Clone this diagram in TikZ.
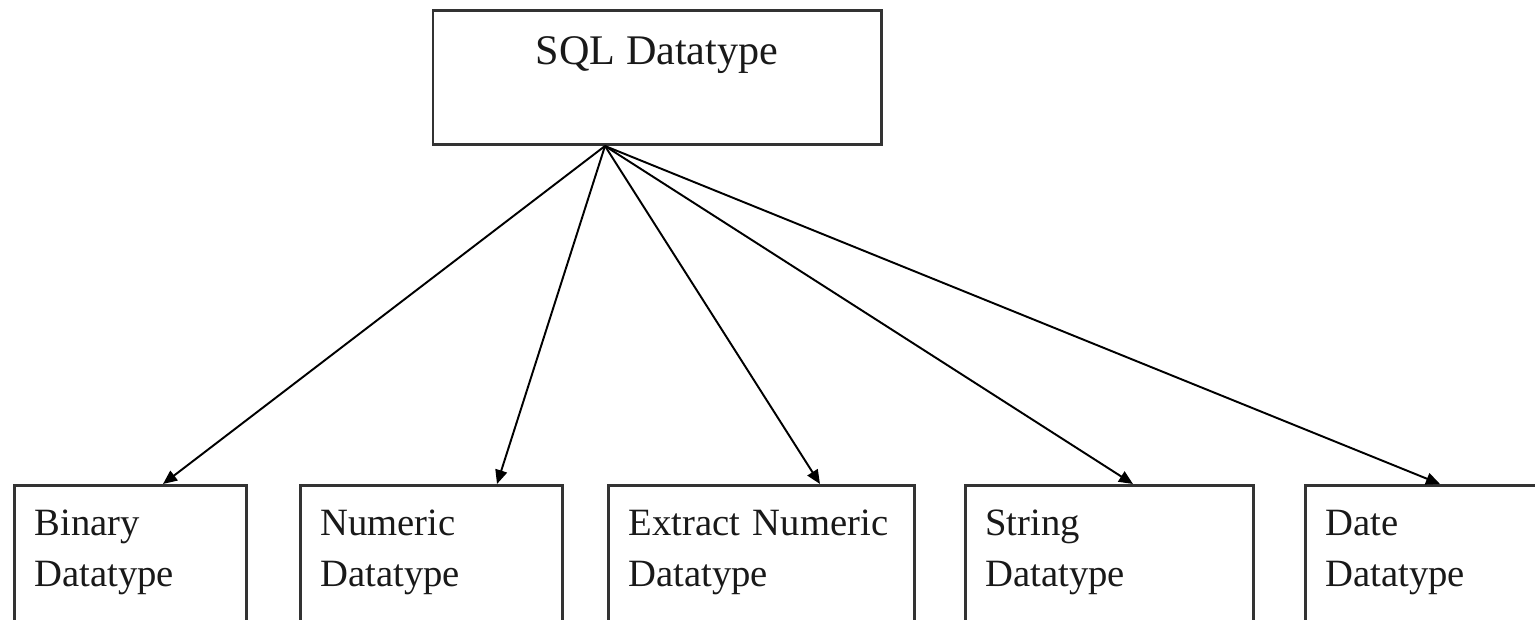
\documentclass[tikz,border=0pt]{standalone}
\usepackage{fontspec}
\setmainfont{Liberation Serif}
\usetikzlibrary{arrows.meta}
\def \Px {0.02}
\tikzstyle{sqlbox}=[
  draw=black!80,
  line width=1.7pt,
  rectangle,
  inner sep=0pt,
  text=black!90,
  font=\fontsize{24pt}{29pt}\selectfont
]
\tikzstyle{typebox}=[
  draw=black!80,
  line width=1.7pt,
  rectangle,
  inner xsep=0.4cm,
  inner ysep=0pt,
  align=left,
  text=black!90,
  font=\fontsize{22pt}{29pt}\selectfont
]
\tikzstyle{arr}=[
  line width=1.1pt,
  -{Triangle[length=0.28cm,width=0.24cm]}
]

\begin{document}
\begin{tikzpicture}[x=0.02cm, y=-0.02cm]
          \def \W {1535}
          \def \H {619}
          \def \BotY {484}

          \useasboundingbox (0,0) rectangle (\W,\H);
          \clip (0,0) rectangle (\W,\H);

          \node[sqlbox, anchor=north, minimum width=448*\Px cm,
                text height=54*\Px cm, text depth=80*\Px cm] (sql) at (657,9) {SQL Datatype};
          \coordinate (src) at ([xshift=-52*\Px cm]sql.south);

          % x / width / name / arrow offset / first line
          \foreach \x/\w/\name/\tip/\word in {13/232/bin/150/Binary,
                                              299/262/num/198/Numeric,
                                              607/306/ext/213/Extract Numeric,
                                              964/288/str/169/String,
                                              1304/260/dat/136/Date}{
            \pgfmathsetmacro \tw {(\w-40)*\Px}
            \node[typebox, anchor=north west, minimum width=\w*\Px cm, text width=\tw cm,
                  text height=50*\Px cm, text depth=2cm] (\name) at (\x,\BotY) {\word\\Datatype};
            \draw[arr] (src) -- ([xshift=\tip*\Px cm]\name.north west);
          }
        \end{tikzpicture}
\end{document}
